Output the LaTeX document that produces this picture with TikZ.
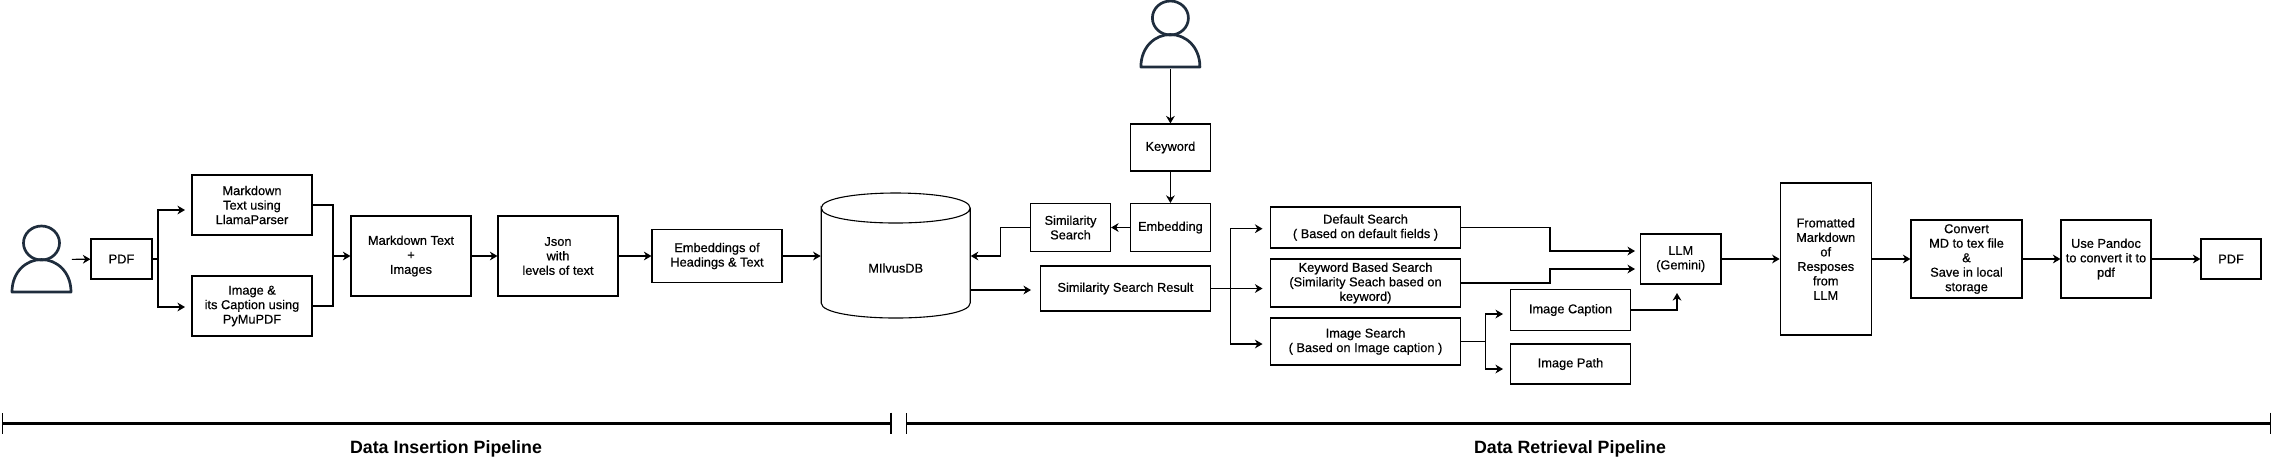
\documentclass[tikz,border=0pt]{standalone}
\usepackage{fontspec}
\setmainfont{Liberation Sans}
\newfontfamily\boxfont[RawFeature={embolden=0.6}]{Liberation Sans}
\usetikzlibrary{arrows.meta}
\definecolor{personcol}{HTML}{1F2D3D}
\tikzset{
box/.style 2 args={draw,line width=.55pt,align=center,inner sep=0pt,minimum width=#1*.5pt,minimum height=#2*.5pt},
arr/.style={-{Stealth[length=3.8pt,width=4.4pt]},line width=.55pt},
con/.style={line width=.55pt},
span/.style={{Bar[width=10.5pt,line width=.6pt]}-{Bar[width=10.5pt,line width=.6pt]},line width=1.5pt},
title/.style={font=\fontsize{8.9}{10}\selectfont\bfseries,inner sep=0pt},
person/.pic={
\draw[personcol,line width=1.35pt](0,-16.5)ellipse[x radius=18,y radius=17];
\draw[personcol,line width=1.35pt,line join=round](-29.5,32.5)..controls(-29.5,12)and(-15,0)..(0,0)
..controls(15,0)and(29.5,12)..(29.5,32.5)--cycle;
}
}
\begin{document}
\begin{tikzpicture}[x=.5pt,y=-.5pt,font=\boxfont\fontsize{6.4}{7.25}\selectfont]
\useasboundingbox(0,0)rectangle(2273,463);
\node[minimum width=30pt,minimum height=33.5pt,inner sep=0pt](usera)at(41.5,259.5){};
\pic at(41.5,259.5){person};
\node[minimum width=30pt,minimum height=34pt,inner sep=0pt](userb)at(1170.4,34.5){};
\pic at(1170.4,34.5){person};
\node[box={61}{40}](pdfa)at(121.5,259){PDF};
\node[box={120}{60}](mdparse)at(252,205){Markdown\\Text using\\LlamaParser};
\node[box={120}{60}](imgparse)at(252,306){Image \&\\its Caption using\\PyMuPDF};
\node[box={120}{80}](mdimg)at(411,256){Markdown Text\\+\\Images};
\node[box={120}{80}](json)at(558,256){Json\\with\\levels of text};
\node[box={130}{53}](embed)at(717,256){Embeddings of\\Headings \& Text};
\node[box={149}{125},draw=none](milvus)at(895.7,256){};
\draw[line width=.55pt](821.2,208)..controls(821.2,188)and(970.2,188)..(970.2,208)
..controls(970.2,228)and(821.2,228)..(821.2,208)--(821.2,303)
..controls(821.2,323)and(970.2,323)..(970.2,303)--(970.2,208);
\node[inner sep=0pt](milvustext)at(895.7,268){MIlvusDB};
\node[box={80}{47}](keyword)at(1170.4,147.5){Keyword};
\node[box={80}{48}](embedding)at(1170.4,227.5){Embedding};
\node[box={80}{48}](simsearch)at(1070.5,227.5){Similarity\\Search};
\node[box={170.5}{45}](result)at(1125.4,288.5){Similarity Search Result};
\node[box={190}{41}](default)at(1365.5,227.5){Default Search\\( Based on default fields )};
\node[box={190}{48}](keybased)at(1365.5,283){Keyword Based Search\\(Similarity Seach based on\\keyword)};
\node[box={190}{47}](imgsearch)at(1365.5,341.5){Image Search\\( Based on Image caption )};
\node[box={120}{41}](caption)at(1570.5,310){Image Caption};
\node[box={120}{40}](imgpath)at(1570.5,364){Image Path};
\node[box={80.5}{50}](llm)at(1680.7,259){LLM\\(Gemini)};
\node[box={91}{152}](formatted)at(1825.7,259){Fromatted\\Markdown\\of\\Resposes\\from\\LLM};
\node[box={111}{78}](convert)at(1966.5,259){Convert\\MD to tex file\\\&\\Save in local\\storage};
\node[box={90}{78}](pandoc)at(2106,259){Use Pandoc\\to convert it to\\pdf};
\node[box={60}{40}](pdfb)at(2231,259){PDF};
\coordinate(splita)at(158,259);
\coordinate(tomd)at(185,210);
\coordinate(toimg)at(185,307);
\coordinate(joina)at(333,256);
\coordinate(bendb)at(1000.5,227.5);
\coordinate(dbout)at(970.5,290);
\coordinate(toresult)at(1031,290);
\coordinate(splitb)at(1230.6,288.5);
\coordinate(todefault)at(1262.5,228.7);
\coordinate(tokey)at(1262.5,288.5);
\coordinate(toimgs)at(1262.5,344);
\coordinate(bendc)at(1550,227.5);
\coordinate(bendd)at(1550,283);
\coordinate(llmina)at(1635,251);
\coordinate(llminb)at(1635,269);
\coordinate(llminc)at(1677,293);
\coordinate(splitc)at(1485.7,341.5);
\coordinate(tocap)at(1503,314);
\coordinate(topath)at(1503,369);
\draw[arr](usera)--(pdfa);
\draw[con](pdfa)--(splita);
\draw[arr](splita)|-(tomd);
\draw[arr](splita)|-(toimg);
\draw[con](mdparse)-|(joina);
\draw[con](imgparse)-|(joina);
\draw[arr](joina)--(mdimg);
\draw[arr](mdimg)--(json);
\draw[arr](json)--(embed);
\draw[arr](embed)--(milvus);
\draw[arr](userb)--(keyword);
\draw[arr](keyword)--(embedding);
\draw[arr](embedding)--(simsearch);
\draw[arr](simsearch)--(bendb)|-(milvus);
\draw[arr](dbout)--(toresult);
\draw[con](result)--(splitb);
\draw[arr](splitb)|-(todefault);
\draw[arr](splitb)--(tokey);
\draw[arr](splitb)|-(toimgs);
\draw[arr](default)--(bendc)|-(llmina);
\draw[arr](keybased)--(bendd)|-(llminb);
\draw[con](imgsearch)--(splitc);
\draw[arr](splitc)|-(tocap);
\draw[arr](splitc)|-(topath);
\draw[arr](caption)-|(llminc);
\draw[arr](llm)--(formatted);
\draw[arr](formatted)--(convert);
\draw[arr](convert)--(pandoc);
\draw[arr](pandoc)--(pdfb);
\coordinate(insl)at(2,423);
\coordinate(insr)at(891.6,423);
\coordinate(retl)at(906,423);
\coordinate(retr)at(2271,423);
\draw[span](insl)--(insr);
\draw[span](retl)--(retr);
\node[title](instext)at(446,448.5){\fontspec{Liberation Sans}\bfseries Data Insertion Pipeline};
\node[title](rettext)at(1570,448.5){\fontspec{Liberation Sans}\bfseries Data Retrieval Pipeline};
\end{tikzpicture}
\end{document}
